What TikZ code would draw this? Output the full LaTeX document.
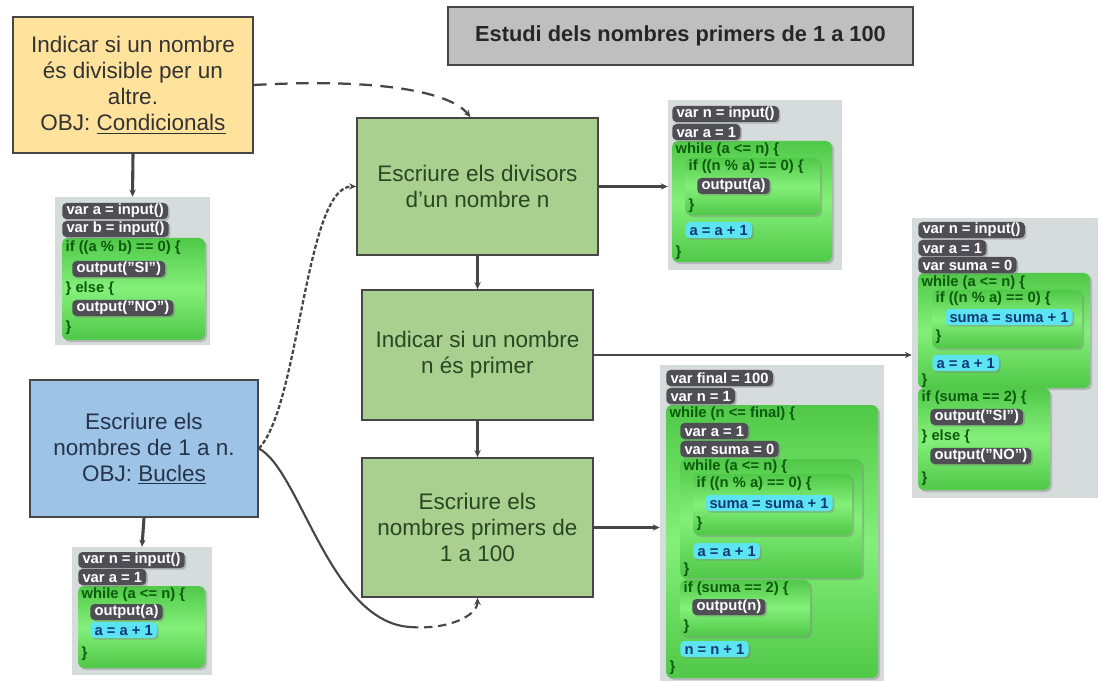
\documentclass[tikz,border=0pt]{standalone}
\usepackage{fontspec}
\setmainfont{Liberation Sans}
\usetikzlibrary{arrows.meta,fit,shadows}

\definecolor{boxyellow}{RGB}{255,226,156}
\definecolor{boxblue}{RGB}{157,195,230}
\definecolor{boxgreen}{RGB}{169,208,142}
\definecolor{boxgray}{RGB}{191,191,191}
\definecolor{edgegray}{RGB}{70,70,70}
\definecolor{greentext}{RGB}{44,70,36}
\definecolor{bluetext}{RGB}{38,52,75}
\definecolor{panelgray}{RGB}{214,220,220}
\definecolor{pilldark}{RGB}{78,78,84}
\definecolor{pillcyan}{RGB}{92,228,240}
\definecolor{codegreen}{RGB}{80,200,72}
\definecolor{codelight}{RGB}{132,240,122}
\definecolor{kwgreen}{RGB}{12,90,12}
\definecolor{cyantext}{RGB}{16,56,120}

\newcommand{\cdfont}{\fontsize{10.5}{12}\selectfont\bfseries}

\begin{document}
\begin{tikzpicture}[x=0.025cm, y=-0.025cm,
    box/.style={draw=edgegray, line width=1.2pt, align=center, inner sep=2pt,
        font=\fontsize{16}{18.5}\selectfont},
    ybox/.style={box, fill=boxyellow, text=black!80},
    bbox/.style={box, fill=boxblue, text=bluetext},
    gbox/.style={box, fill=boxgreen, text=greentext},
    titlebox/.style={draw=edgegray, line width=2pt, fill=boxgray, text=black!85,
        font=\fontsize{15.5}{18}\selectfont\bfseries},
    panel/.style={fill=panelgray, inner sep=0pt},
    gblock/.style={rounded corners=4pt, top color=codegreen, bottom color=codegreen,
        middle color=codelight, drop shadow={shadow xshift=1.5pt, shadow yshift=-1.5pt, opacity=0.4}},
    vpill/.style={anchor=west, fill=pilldark, text=white, rounded corners=3pt, font=\cdfont,
        inner xsep=3pt, inner ysep=0pt, minimum height=0.4cm,
        drop shadow={shadow xshift=1.2pt, shadow yshift=-1.2pt, opacity=0.45}},
    cpill/.style={vpill, fill=pillcyan, text=cyantext},
    kw/.style={anchor=west, text=kwgreen, font=\cdfont, inner sep=1pt},
    link/.style={draw=edgegray, line width=1.6pt, -{Stealth[length=5pt,width=4.5pt]}},
    thicklink/.style={link, line width=2.2pt},
    dashlink/.style={link, dash pattern=on 9pt off 6pt},
    dotlink/.style={link, line width=1.6pt, dash pattern=on 3pt off 1.5pt}]

    \fill[white] (0,0) rectangle (1103,681);
    \useasboundingbox (0,0) rectangle (1103,681);

    % boxes
    \node[titlebox, minimum width=11.625cm, minimum height=1.45cm] (title) at (680.5,36) {Estudi dels nombres primers de 1 a 100};
    \node[ybox, minimum width=6cm, minimum height=3.4cm] (yellow) at (133,85) {Indicar si un nombre\\és divisible per un\\altre.\\OBJ: \underline{Condicionals}};
    \node[bbox, minimum width=5.7cm, minimum height=3.425cm] (blue) at (144,448.5) {Escriure els\\nombres de 1 a n.\\OBJ: \underline{Bucles}};
    \node[gbox, minimum width=6.025cm, minimum height=3.425cm] (g1) at (477.5,186.5) {Escriure els divisors\\d’un nombre n};
    \node[gbox, minimum width=5.775cm, minimum height=3.25cm] (g2) at (477.5,355) {Indicar si un nombre\\n és primer};
    \node[gbox, minimum width=5.775cm, minimum height=3.475cm] (g3) at (477.5,527.5) {Escriure els\\nombres primers de\\1 a 100};

    % code 1 (condicionals)
    \node[panel, fit={(55,197) (210,345)}] (code1) {};
    \path[gblock] (62,238) rectangle (205,340);
    \node[vpill] (c1a) at (62,211) {var a = input()};
    \node[vpill] (c1b) at (62,229) {var b = input()};
    \node[kw] (c1c) at (64,248) {if ((a \% b) == 0) \{};
    \node[vpill] (c1d) at (72,269) {output("SI")};
    \node[kw] (c1e) at (64,289) {\} else \{};
    \node[vpill] (c1f) at (72,308) {output("NO")};
    \node[kw] (c1g) at (64,328) {\}};

    % code 4 (bucles)
    \node[panel, fit={(72,547) (212,675)}] (code4) {};
    \path[gblock] (78,586) rectangle (205,668);
    \node[vpill] (c4a) at (78,560) {var n = input()};
    \node[vpill] (c4b) at (78,577) {var a = 1};
    \node[kw] (c4c) at (80,595) {while (a <= n) \{};
    \node[vpill] (c4d) at (90,612) {output(a)};
    \node[cpill] (c4e) at (90,630) {a = a + 1};
    \node[kw] (c4f) at (80,654) {\}};

    % code 2 (divisors)
    \node[panel, fit={(668,100) (842,270)}] (code2) {};
    \path[gblock] (672,141) rectangle (832,262);
    \path[gblock] (685,158) rectangle (820,215);
    \node[vpill] (c2a) at (672,114) {var n = input()};
    \node[vpill] (c2b) at (672,132) {var a = 1};
    \node[kw] (c2c) at (674,150) {while (a <= n) \{};
    \node[kw] (c2d) at (687,167) {if ((n \% a) == 0) \{};
    \node[vpill] (c2e) at (697,186) {output(a)};
    \node[kw] (c2f) at (687,206) {\}};
    \node[cpill] (c2g) at (685,230) {a = a + 1};
    \node[kw] (c2h) at (674,253) {\}};

    % code 3 (primer)
    \node[panel, fit={(912,218) (1098,498)}] (code3) {};
    \path[gblock] (918,273) rectangle (1090,388);
    \path[gblock] (932,290) rectangle (1082,348);
    \path[gblock] (918,388) rectangle (1050,490);
    \node[vpill] (c3a) at (918,230) {var n = input()};
    \node[vpill] (c3b) at (918,248) {var a = 1};
    \node[vpill] (c3c) at (918,265) {var suma = 0};
    \node[kw] (c3d) at (920,283) {while (a <= n) \{};
    \node[kw] (c3e) at (934,299) {if ((n \% a) == 0) \{};
    \node[cpill] (c3f) at (945,317) {suma = suma + 1};
    \node[kw] (c3g) at (934,337) {\}};
    \node[cpill] (c3h) at (932,363) {a = a + 1};
    \node[kw] (c3i) at (920,381) {\}};
    \node[kw] (c3j) at (920,398) {if (suma == 2) \{};
    \node[vpill] (c3k) at (930,417) {output("SI")};
    \node[kw] (c3l) at (920,437) {\} else \{};
    \node[vpill] (c3m) at (930,456) {output("NO")};
    \node[kw] (c3n) at (920,479) {\}};

    % code 5 (primers de 1 a 100)
    \node[panel, fit={(660,365) (884,681)}] (code5) {};
    \path[gblock] (666,405) rectangle (878,678);
    \path[gblock] (680,459) rectangle (862,578);
    \path[gblock] (693,474) rectangle (852,535);
    \path[gblock] (680,580) rectangle (810,636);
    \node[vpill] (c5a) at (666,378) {var final = 100};
    \node[vpill] (c5b) at (666,396) {var n = 1};
    \node[kw] (c5c) at (668,414) {while (n <= final) \{};
    \node[vpill] (c5d) at (680,431) {var a = 1};
    \node[vpill] (c5e) at (680,449) {var suma = 0};
    \node[kw] (c5f) at (682,467) {while (a <= n) \{};
    \node[kw] (c5g) at (695,484) {if ((n \% a) == 0) \{};
    \node[cpill] (c5h) at (705,503) {suma = suma + 1};
    \node[kw] (c5i) at (695,524) {\}};
    \node[cpill] (c5j) at (693,551) {a = a + 1};
    \node[kw] (c5k) at (682,570) {\}};
    \node[kw] (c5l) at (682,589) {if (suma == 2) \{};
    \node[vpill] (c5m) at (692,607) {output(n)};
    \node[kw] (c5n) at (682,627) {\}};
    \node[cpill] (c5o) at (680,649) {n = n + 1};
    \node[kw] (c5p) at (668,668) {\}};

    % arrows
    \draw[thicklink] (yellow.south) -- (code1.north);
    \draw[thicklink] (blue.south) -- (code4.north);
    \draw[thicklink] (g1.south) -- (g2.north);
    \draw[thicklink] (g2.south) -- (g3.north);
    \draw[link] (g1.east) -- (g1.east -| code2.west);
    \draw[link] (g2.east) -- (g2.east -| code3.west);
    \draw[link] (g3.east) -- (g3.east -| code5.west);

    % curves
    \draw[dashlink] (yellow.east) .. controls (380,78) and (450,92) .. ([xshift=-5pt]g1.north);
    \draw[dotlink] (blue.east) .. controls (300,405) and (305,186) .. (g1.west);
    \coordinate (bend) at (410,627);
    \draw[draw=edgegray, line width=1.5pt] (blue.east) .. controls (300,470) and (330,622) .. (bend);
    \draw[link, line width=1.5pt, dash pattern=on 6pt off 4pt] (bend) .. controls (450,630) and (477.5,615) .. (g3.south);
\end{tikzpicture}
\end{document}
